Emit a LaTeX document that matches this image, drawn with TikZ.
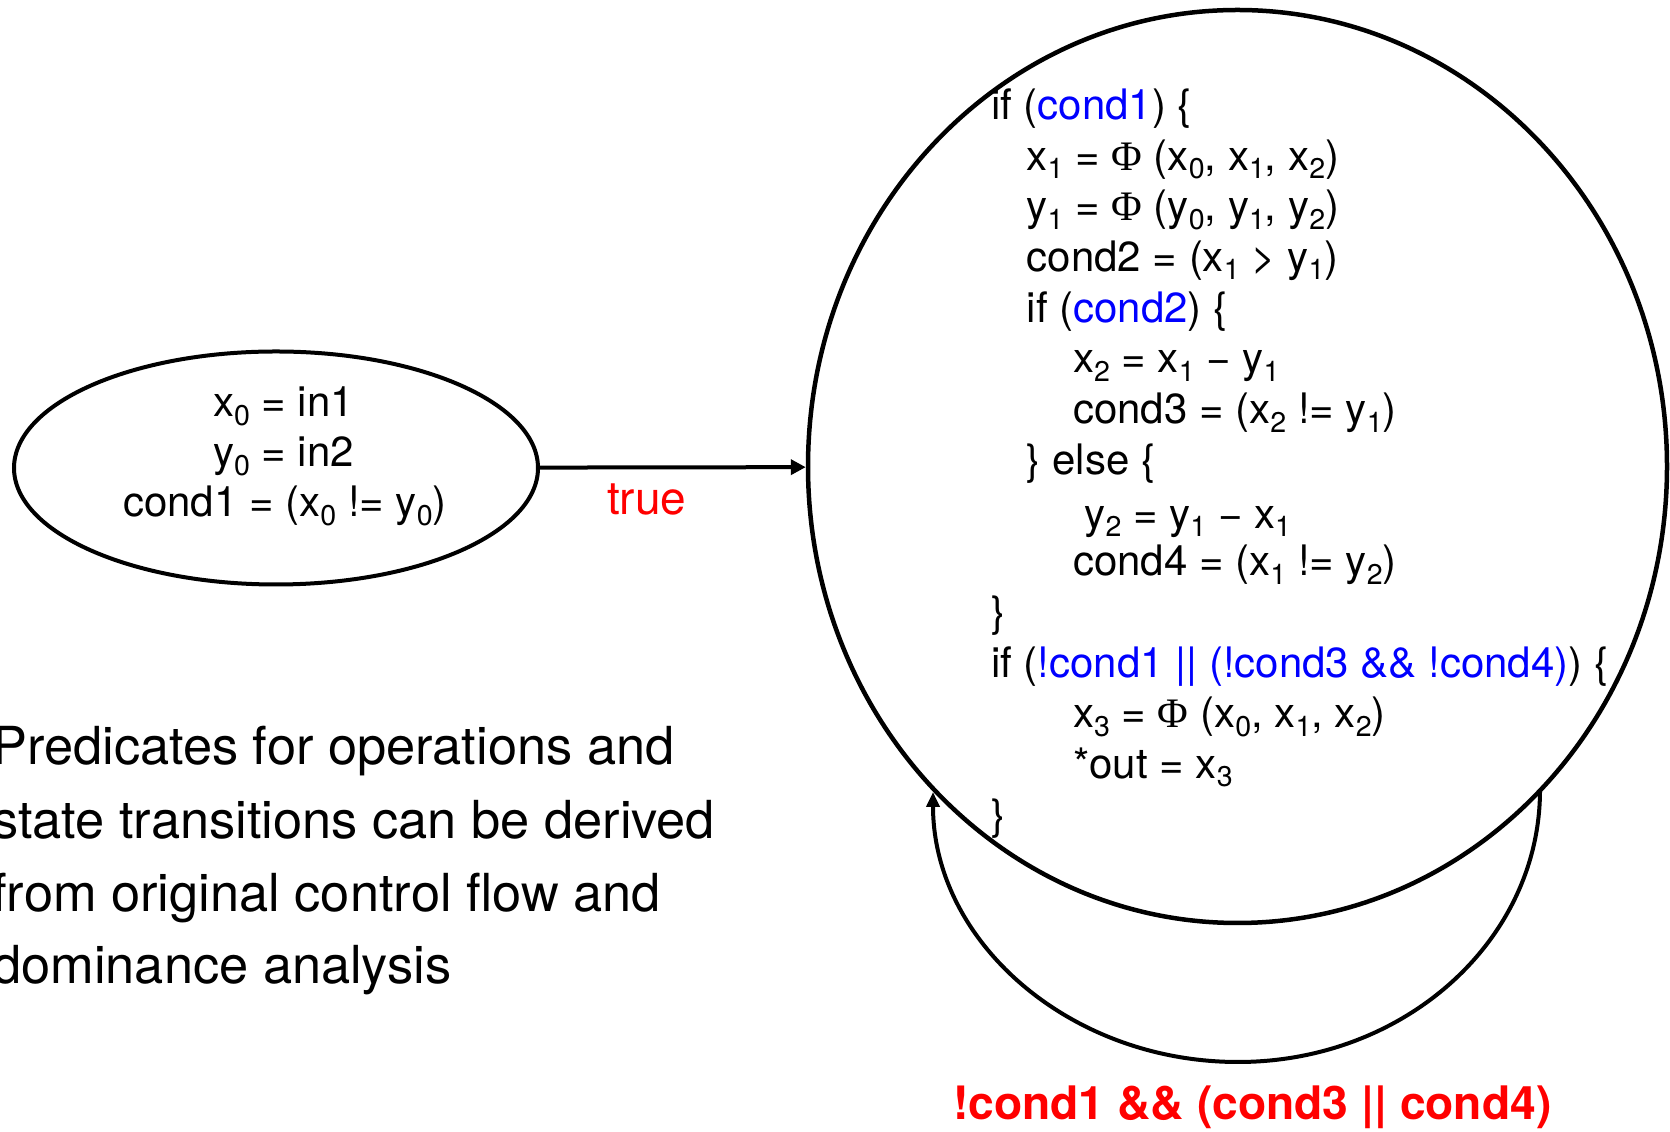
\documentclass[tikz,border=0pt]{standalone}
\usepackage{fontspec}
\setmainfont{TeX Gyre Heros}
\newfontfamily\phifont{Liberation Serif}
\usetikzlibrary{arrows.meta,shapes.geometric}
\definecolor{condblue}{RGB}{0,0,255}
\definecolor{labelred}{RGB}{255,0,0}
% lowered index digit
\newcommand\ix[1]{\raisebox{-0.2em}{\scalebox{0.68}{#1}}}
\newcommand\phisym{{\phifont Φ}}
\newcommand\cnd[1]{\textcolor{condblue}{#1}}

\begin{document}
\begin{tikzpicture}[x=1pt,y=1pt,
  state/.style={draw,ellipse,inner sep=0pt},
  codeline/.style={anchor=base west,inner sep=0pt,font=\fontsize{42}{50}\selectfont},
  edgelabel/.style={anchor=base west,inner sep=0pt,text=labelred,font=\fontsize{46}{52}\selectfont},
  note/.style={anchor=base west,inner sep=0pt,font=\fontsize{52.4}{73}\selectfont},
  flow/.style={line width=4pt,-{Triangle[length=15pt,width=15pt]}},
]
\useasboundingbox (0,0) rectangle (1670,1132);

% states
\node[state,line width=4pt,minimum width=524,minimum height=233] (start) at (276,664) {};
\node[state,line width=4.5pt,minimum width=859,minimum height=913] (body) at (1237.5,665.5) {};

% text of the first state
\node[codeline] (s1) at (213,715) {x\ix{0} = in1};
\node[codeline] (s2) at (213,665) {y\ix{0} = in2};
\node[codeline] (s3) at (123,615) {cond1 = (x\ix{0} != y\ix{0})};

% code of the loop state
\node[codeline] (c1)  at (991,1012.5)   {if (\cnd{cond1}) \{};
\node[codeline] (c2)  at (1026.5,961.8) {x\ix{1} = \phisym{} (x\ix{0}, x\ix{1}, x\ix{2})};
\node[codeline] (c3)  at (1026.5,911.1) {y\ix{1} = \phisym{} (y\ix{0}, y\ix{1}, y\ix{2})};
\node[codeline] (c4)  at (1026.5,860.4) {cond2 = (x\ix{1} > y\ix{1})};
\node[codeline] (c5)  at (1026.5,809.7) {if (\cnd{cond2}) \{};
\node[codeline] (c6)  at (1073,759)     {x\ix{2} = x\ix{1} − y\ix{1}};
\node[codeline] (c7)  at (1073,708.3)   {cond3 = (x\ix{2} != y\ix{1})};
\node[codeline] (c8)  at (1026.5,657.6) {\} else \{};
\node[codeline] (c9)  at (1084.5,603.7) {y\ix{2} = y\ix{1} − x\ix{1}};
\node[codeline] (c10) at (1073,556.2)   {cond4 = (x\ix{1} != y\ix{2})};
\node[codeline] (c11) at (991,505.5)    {\}};
\node[codeline] (c12) at (991,454.8)    {if (\cnd{!cond1 || (!cond3 \&\& !cond4)}) \{};
\node[codeline] (c13) at (1073,404.1)   {x\ix{3} = \phisym{} (x\ix{0}, x\ix{1}, x\ix{2})};
\node[codeline] (c14) at (1073,353.4)   {*out = x\ix{3}};
\node[codeline] (c15) at (991,302.7)    {\}};

% transitions
\draw[flow] (start) -- (body);
\node[edgelabel] (ltrue) at (607,617) {true};

\coordinate (loopout) at (1540,342);
\coordinate (loopbot) at (1238,70);
\coordinate (loopin)  at (933,340);
\draw[line width=4pt,-{Triangle[length=15pt,width=13pt]}]
  (loopout) .. controls (1540,192) and (1405,70) .. (loopbot)
            .. controls (1070,70) and (933,190) .. (loopin);
\node[edgelabel,font=\fontsize{46.2}{52}\selectfont\bfseries] (lloop) at (953,12)
  {!cond1 \&\& (cond3 || cond4)};

% side note
\node[note] (n1) at (-8,367) {Predicates for operations and};
\node[note] (n2) at (-8,293) {state transitions can be derived};
\node[note] (n3) at (-8,220) {from original control flow and};
\node[note] (n4) at (-8,148) {dominance analysis};
\end{tikzpicture}
\end{document}
